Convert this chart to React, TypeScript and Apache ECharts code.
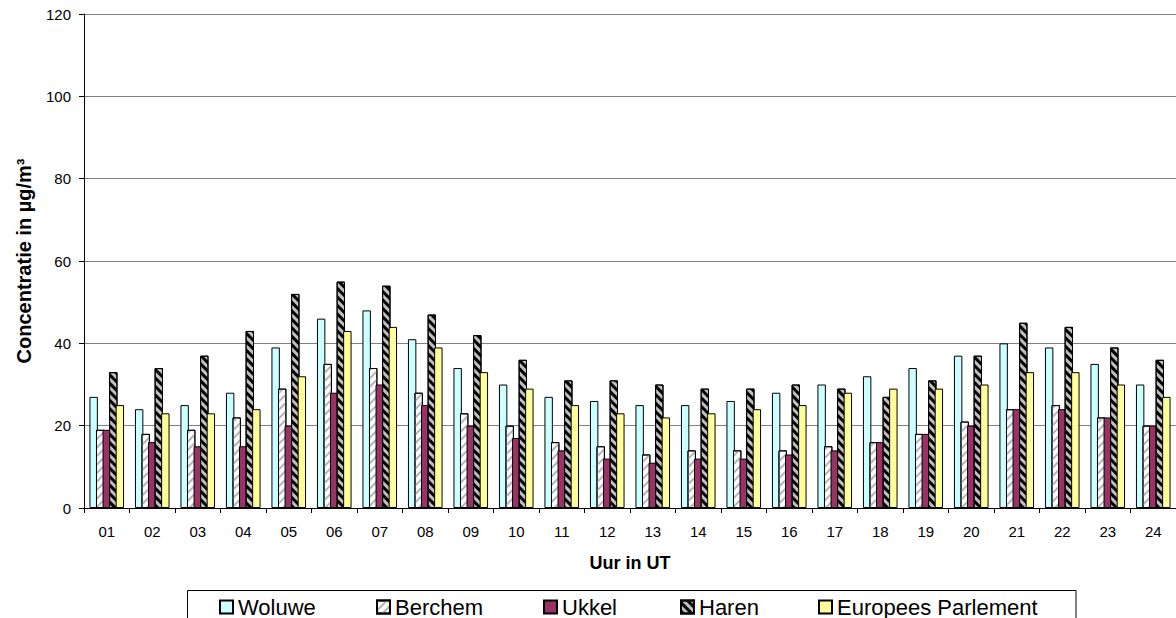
import React, { useEffect, useRef } from "react";
import * as echarts from "echarts";

const hours = ["01","02","03","04","05","06","07","08","09","10","11","12","13","14","15","16","17","18","19","20","21","22","23","24"];
const woluwe = [27,24,25,28,39,46,48,41,34,30,27,26,25,25,26,28,30,32,34,37,40,39,35,30];
const berchem = [19,18,19,22,29,35,34,28,23,20,16,15,13,14,14,14,15,16,18,21,24,25,22,20];
const ukkel = [19,16,15,15,20,28,30,25,20,17,14,12,11,12,12,13,14,16,18,20,24,24,22,20];
const haren = [33,34,37,43,52,55,54,47,42,36,31,31,30,29,29,30,29,27,31,37,45,44,39,36];
const europees = [25,23,23,24,32,43,44,39,33,29,25,23,22,23,24,25,28,29,29,30,33,33,30,27];
const yTicks = { min: 0, max: 120, interval: 20 };

const FONT = 'Arial, "Liberation Sans", sans-serif';

export default function App() {
  const ref = useRef<HTMLDivElement>(null);
  useEffect(() => {
    if (!ref.current) return;
    const chart = echarts.init(ref.current, null, { renderer: "svg" });
    const border = { borderColor: "#000", borderWidth: 1 };
    const names = ["Woluwe", "Berchem", "Ukkel", "Haren", "Europees Parlement"];
    const legendLefts = [219, 376, 543, 680, 818];
    chart.setOption({
      animation: false,
      backgroundColor: "#fff",
      textStyle: { fontFamily: FONT },
      grid: { left: 84, top: 14, width: 1098, height: 494, containLabel: false },
      legend: names.map((n, i) => ({
        data: [n],
        left: legendLefts[i],
        top: 596,
        icon: "rect",
        itemWidth: 13,
        itemHeight: 13,
        padding: 0,
        selectedMode: false,
        textStyle: { fontSize: 22, color: "#000", fontFamily: FONT, padding: [0, 0, 10, 0] },
      })),
      graphic: [
        {
          type: "rect",
          shape: { x: 187.5, y: 590.5, width: 888.5, height: 60 },
          style: { fill: "none", stroke: "#000", lineWidth: 1 },
          silent: true,
        },
      ],
      xAxis: {
        type: "category",
        data: hours,
        boundaryGap: true,
        axisLine: { lineStyle: { color: "#000", width: 1 } },
        axisTick: { show: true, length: 5, alignWithLabel: false, lineStyle: { color: "#000" } },
        axisLabel: { fontSize: 15, color: "#000", margin: 16, fontFamily: FONT, interval: 0 },
        name: "Uur in UT",
        nameLocation: "middle",
        nameGap: 46,
        nameTextStyle: { fontSize: 18, fontWeight: "bold", color: "#000", fontFamily: FONT },
      },
      yAxis: {
        type: "value",
        min: yTicks.min,
        max: yTicks.max,
        interval: yTicks.interval,
        axisLine: { show: true, lineStyle: { color: "#000", width: 1 } },
        axisTick: { show: true, length: 5, lineStyle: { color: "#000" } },
        axisLabel: { fontSize: 15, color: "#000", margin: 13, fontFamily: FONT },
        splitLine: { show: true, lineStyle: { color: "#808080", width: 1 } },
        name: "Concentratie in µg/m³",
        nameLocation: "middle",
        nameGap: 50,
        nameRotate: 90,
        nameTextStyle: { fontSize: 20, fontWeight: "bold", color: "#000", fontFamily: FONT },
      },
      series: [
        {
          name: "Woluwe",
          type: "bar",
          data: woluwe,
          barWidth: 8.4,
          barGap: "-22%",
          itemStyle: { color: "#CCFFFF", ...border },
        },
        {
          name: "Berchem",
          type: "bar",
          data: berchem,
          barWidth: 8.4,
          barGap: "-22%",
          itemStyle: {
            color: "#FFFFFF",
            ...border,
            decal: {
              symbol: "rect",
              symbolSize: 1,
              color: "#B4B4B4",
              dashArrayX: [1, 0],
              dashArrayY: [2, 4],
              rotation: -Math.PI / 4,
            },
          },
        },
        {
          name: "Ukkel",
          type: "bar",
          data: ukkel,
          barWidth: 8.4,
          barGap: "-22%",
          itemStyle: { color: "#993366", ...border },
        },
        {
          name: "Haren",
          type: "bar",
          data: haren,
          barWidth: 8.4,
          barGap: "-22%",
          itemStyle: {
            color: "#C0C0C0",
            ...border,
            decal: {
              symbol: "rect",
              symbolSize: 1,
              color: "#000000",
              dashArrayX: [1, 0],
              dashArrayY: [3, 3],
              rotation: Math.PI / 4,
            },
          },
        },
        {
          name: "Europees Parlement",
          type: "bar",
          data: europees,
          barWidth: 8.4,
          barGap: "-22%",
          itemStyle: { color: "#FFFF99", ...border },
        },
      ],
    });
    return () => chart.dispose();
  }, []);
  return (
    <div
      ref={ref}
      style={{ position: "fixed", left: 0, top: 0, width: 1176, height: 618, background: "#fff" }}
    />
  );
}
